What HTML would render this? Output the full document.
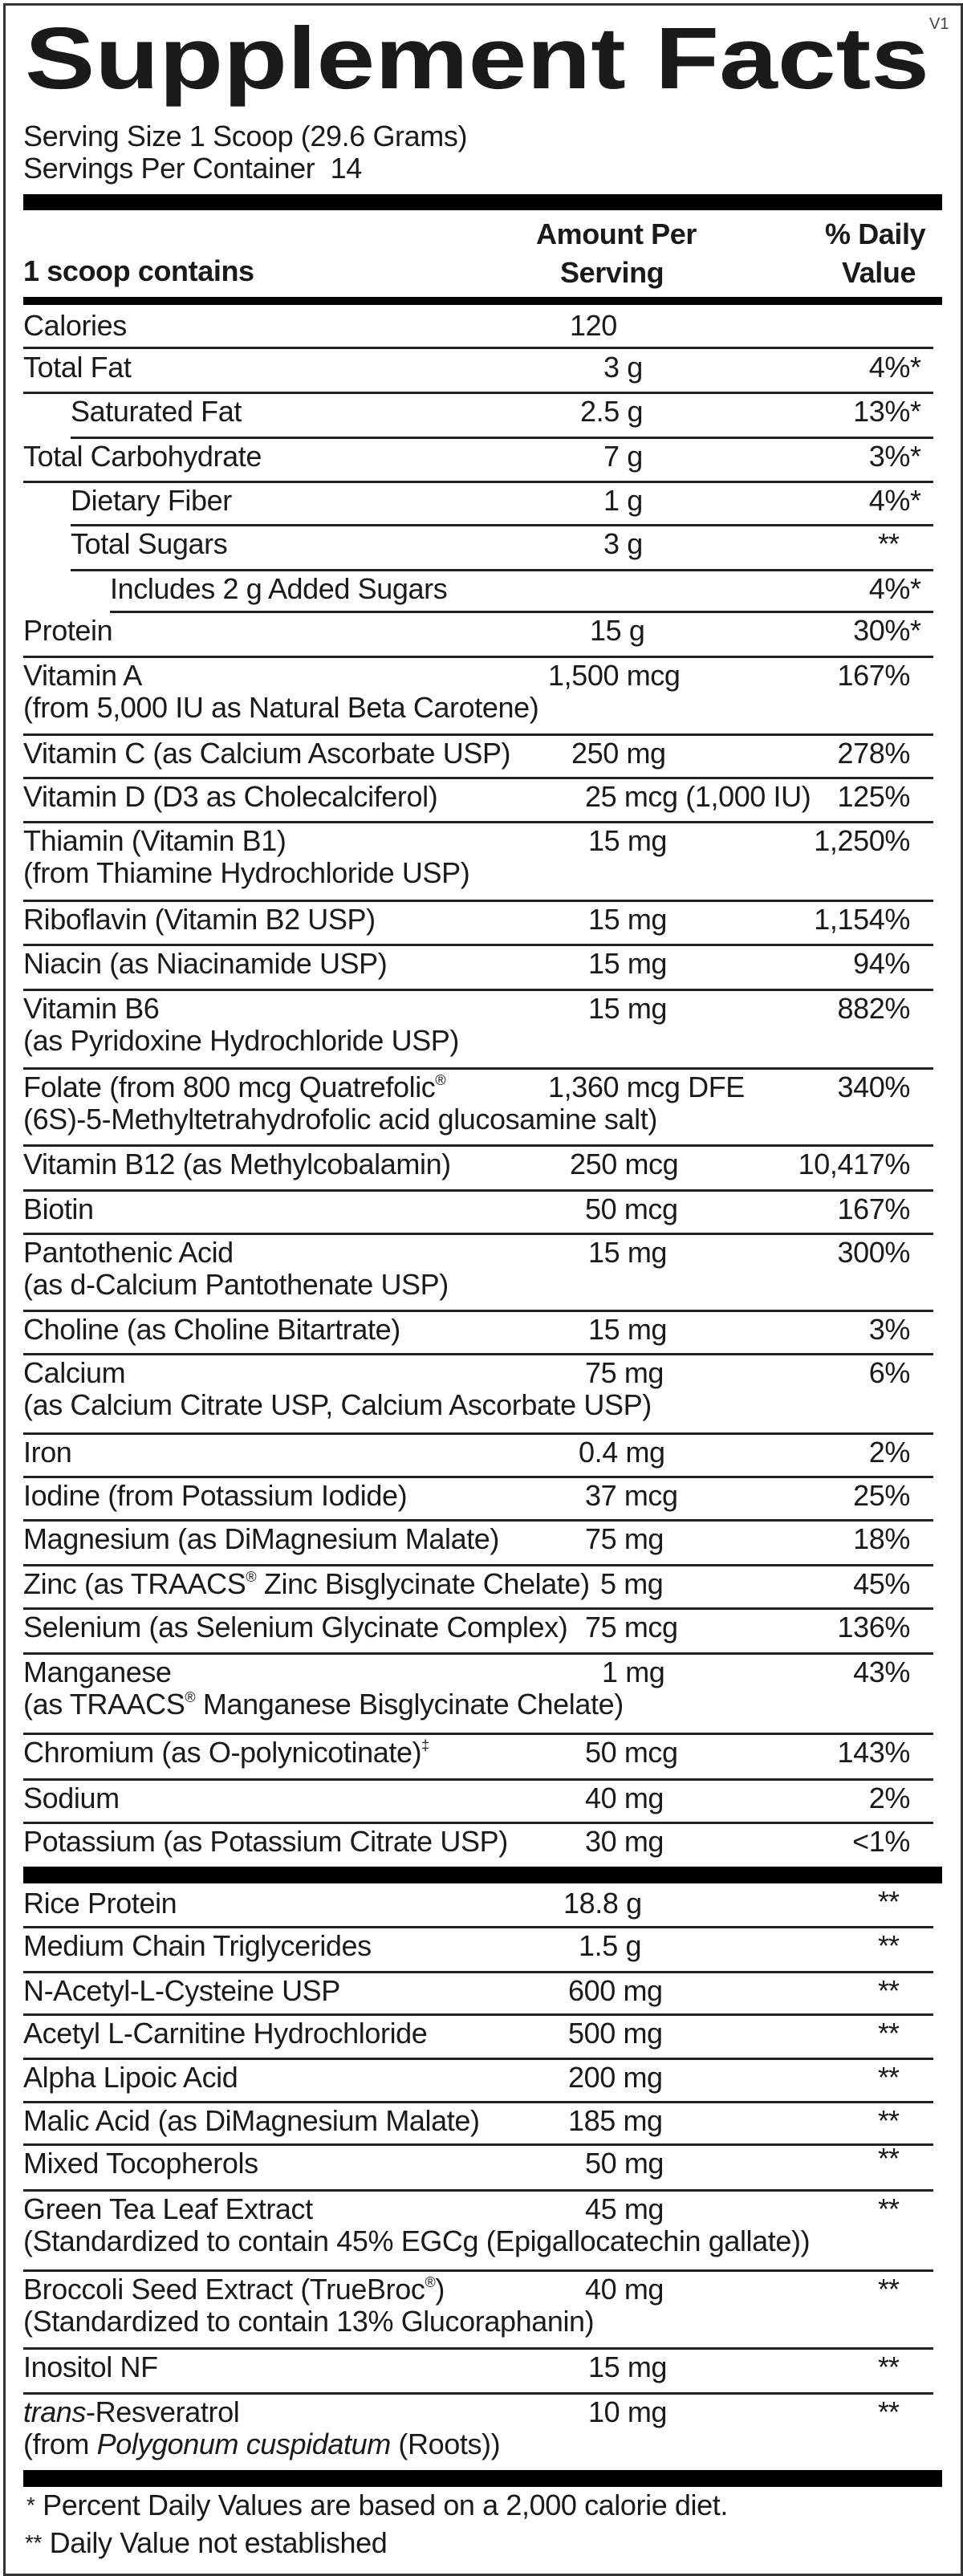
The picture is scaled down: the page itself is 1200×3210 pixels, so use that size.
<!DOCTYPE html>
<html><head><meta charset="utf-8"><style>
*{margin:0;padding:0}
body{width:1200px;height:3210px;background:#fff;position:relative;overflow:hidden;font-family:"Liberation Sans",Arial,sans-serif;color:#1a1a1a}
.box{position:absolute;left:4px;top:4px;width:1190px;height:3200px;border:3px solid #333}
.t{position:absolute;font-size:36px;line-height:36px;letter-spacing:-0.4px;white-space:nowrap}
.p{position:absolute;right:66px;font-size:36px;line-height:36px;letter-spacing:-0.4px;white-space:nowrap}
.p i{position:absolute;left:100%;font-style:normal}
.s{position:absolute;left:1094px;font-size:36px;line-height:36px;letter-spacing:-1px}
.r{position:absolute;height:3px;background:#222;right:37px}
.bar{position:absolute;left:29px;width:1145px;background:#000}
.b{font-weight:bold}
sup{font-size:18px;vertical-align:top;line-height:18px}
</style></head><body>
<div class="box"></div>
<svg style="position:absolute;left:0;top:0" width="1200" height="140">
<text x="31" y="110" font-family="Liberation Sans, Arial, sans-serif" font-weight="bold" font-size="109" textLength="1127" lengthAdjust="spacingAndGlyphs" fill="#1a1a1a">Supplement Facts</text>
<text x="1158" y="36" font-family="Liberation Sans, Arial, sans-serif" font-size="20" fill="#444">V1</text>
</svg>
<div class="t" style="left:29px;top:152px">Serving Size 1 Scoop (29.6 Grams)</div>
<div class="t" style="left:29px;top:192px">Servings Per Container&nbsp; 14</div>
<div class="bar" style="top:242px;height:20px"></div>
<div class="t b" style="left:668px;top:274px">Amount Per</div>
<div class="t b" style="left:698px;top:322px">Serving</div>
<div class="t b" style="left:1028px;top:274px">% Daily</div>
<div class="t b" style="left:1049px;top:322px">Value</div>
<div class="t b" style="left:29px;top:320px">1 scoop contains</div>
<div class="bar" style="top:370px;height:10px"></div>
<div class="t" style="left:29px;top:388px">Calories</div><div class="t" style="left:710px;top:388px">120</div>

<div class="r" style="left:29px;top:432px"></div>
<div class="t" style="left:29px;top:440px">Total Fat</div><div class="t" style="left:752px;top:440px">3 g</div><div class="p" style="top:440px">4%<i>*</i></div>
<div class="r" style="left:29px;top:488px"></div>
<div class="t" style="left:88px;top:495px">Saturated Fat</div><div class="t" style="left:723px;top:495px">2.5 g</div><div class="p" style="top:495px">13%<i>*</i></div>
<div class="r" style="left:88px;top:544px"></div>
<div class="t" style="left:29px;top:551px">Total Carbohydrate</div><div class="t" style="left:752px;top:551px">7 g</div><div class="p" style="top:551px">3%<i>*</i></div>
<div class="r" style="left:29px;top:599px"></div>
<div class="t" style="left:88px;top:606px">Dietary Fiber</div><div class="t" style="left:752px;top:606px">1 g</div><div class="p" style="top:606px">4%<i>*</i></div>
<div class="r" style="left:88px;top:653px"></div>
<div class="t" style="left:88px;top:660px">Total Sugars</div><div class="t" style="left:752px;top:660px">3 g</div><div class="s" style="top:660px">**</div>
<div class="r" style="left:88px;top:709px"></div>
<div class="t" style="left:137px;top:716px">Includes 2 g Added Sugars</div><div class="p" style="top:716px">4%<i>*</i></div>
<div class="r" style="left:137px;top:761px"></div>
<div class="t" style="left:29px;top:768px">Protein</div><div class="t" style="left:735px;top:768px">15 g</div><div class="p" style="top:768px">30%<i>*</i></div>
<div class="r" style="left:29px;top:817px"></div>
<div class="t" style="left:29px;top:824px">Vitamin A</div><div class="t" style="left:29px;top:864px">(from 5,000 IU as Natural Beta Carotene)</div><div class="t" style="left:683px;top:824px">1,500 mcg</div><div class="p" style="top:824px">167%</div>
<div class="r" style="left:29px;top:914px"></div>
<div class="t" style="left:29px;top:921px">Vitamin C (as Calcium Ascorbate USP)</div><div class="t" style="left:712px;top:921px">250 mg</div><div class="p" style="top:921px">278%</div>
<div class="r" style="left:29px;top:968px"></div>
<div class="t" style="left:29px;top:975px">Vitamin D (D3 as Cholecalciferol)</div><div class="t" style="left:729px;top:975px">25 mcg (1,000 IU)</div><div class="p" style="top:975px">125%</div>
<div class="r" style="left:29px;top:1023px"></div>
<div class="t" style="left:29px;top:1030px">Thiamin (Vitamin B1)</div><div class="t" style="left:29px;top:1070px">(from Thiamine Hydrochloride USP)</div><div class="t" style="left:733px;top:1030px">15 mg</div><div class="p" style="top:1030px">1,250%</div>
<div class="r" style="left:29px;top:1121px"></div>
<div class="t" style="left:29px;top:1128px">Riboflavin (Vitamin B2 USP)</div><div class="t" style="left:733px;top:1128px">15 mg</div><div class="p" style="top:1128px">1,154%</div>
<div class="r" style="left:29px;top:1176px"></div>
<div class="t" style="left:29px;top:1183px">Niacin (as Niacinamide USP)</div><div class="t" style="left:733px;top:1183px">15 mg</div><div class="p" style="top:1183px">94%</div>
<div class="r" style="left:29px;top:1232px"></div>
<div class="t" style="left:29px;top:1239px">Vitamin B6</div><div class="t" style="left:29px;top:1279px">(as Pyridoxine Hydrochloride USP)</div><div class="t" style="left:733px;top:1239px">15 mg</div><div class="p" style="top:1239px">882%</div>
<div class="r" style="left:29px;top:1330px"></div>
<div class="t" style="left:29px;top:1337px">Folate (from 800 mcg Quatrefolic<sup>®</sup></div><div class="t" style="left:29px;top:1377px">(6S)-5-Methyltetrahydrofolic acid glucosamine salt)</div><div class="t" style="left:683px;top:1337px">1,360 mcg DFE</div><div class="p" style="top:1337px">340%</div>
<div class="r" style="left:29px;top:1426px"></div>
<div class="t" style="left:29px;top:1433px">Vitamin B12 (as Methylcobalamin)</div><div class="t" style="left:710px;top:1433px">250 mcg</div><div class="p" style="top:1433px">10,417%</div>
<div class="r" style="left:29px;top:1482px"></div>
<div class="t" style="left:29px;top:1489px">Biotin</div><div class="t" style="left:729px;top:1489px">50 mcg</div><div class="p" style="top:1489px">167%</div>
<div class="r" style="left:29px;top:1536px"></div>
<div class="t" style="left:29px;top:1543px">Pantothenic Acid</div><div class="t" style="left:29px;top:1583px">(as d-Calcium Pantothenate USP)</div><div class="t" style="left:733px;top:1543px">15 mg</div><div class="p" style="top:1543px">300%</div>
<div class="r" style="left:29px;top:1632px"></div>
<div class="t" style="left:29px;top:1639px">Choline (as Choline Bitartrate)</div><div class="t" style="left:733px;top:1639px">15 mg</div><div class="p" style="top:1639px">3%</div>
<div class="r" style="left:29px;top:1686px"></div>
<div class="t" style="left:29px;top:1693px">Calcium</div><div class="t" style="left:29px;top:1733px">(as Calcium Citrate USP, Calcium Ascorbate USP)</div><div class="t" style="left:729px;top:1693px">75 mg</div><div class="p" style="top:1693px">6%</div>
<div class="r" style="left:29px;top:1785px"></div>
<div class="t" style="left:29px;top:1792px">Iron</div><div class="t" style="left:721px;top:1792px">0.4 mg</div><div class="p" style="top:1792px">2%</div>
<div class="r" style="left:29px;top:1839px"></div>
<div class="t" style="left:29px;top:1846px">Iodine (from Potassium Iodide)</div><div class="t" style="left:729px;top:1846px">37 mcg</div><div class="p" style="top:1846px">25%</div>
<div class="r" style="left:29px;top:1893px"></div>
<div class="t" style="left:29px;top:1900px">Magnesium (as DiMagnesium Malate)</div><div class="t" style="left:729px;top:1900px">75 mg</div><div class="p" style="top:1900px">18%</div>
<div class="r" style="left:29px;top:1949px"></div>
<div class="t" style="left:29px;top:1956px">Zinc (as TRAACS<sup>®</sup> Zinc Bisglycinate Chelate)</div><div class="t" style="left:748px;top:1956px">5 mg</div><div class="p" style="top:1956px">45%</div>
<div class="r" style="left:29px;top:2003px"></div>
<div class="t" style="left:29px;top:2010px">Selenium (as Selenium Glycinate Complex)</div><div class="t" style="left:729px;top:2010px">75 mcg</div><div class="p" style="top:2010px">136%</div>
<div class="r" style="left:29px;top:2059px"></div>
<div class="t" style="left:29px;top:2066px">Manganese</div><div class="t" style="left:29px;top:2106px">(as TRAACS<sup>®</sup> Manganese Bisglycinate Chelate)</div><div class="t" style="left:750px;top:2066px">1 mg</div><div class="p" style="top:2066px">43%</div>
<div class="r" style="left:29px;top:2159px"></div>
<div class="t" style="left:29px;top:2166px">Chromium (as O-polynicotinate)<sup>‡</sup></div><div class="t" style="left:729px;top:2166px">50 mcg</div><div class="p" style="top:2166px">143%</div>
<div class="r" style="left:29px;top:2216px"></div>
<div class="t" style="left:29px;top:2223px">Sodium</div><div class="t" style="left:729px;top:2223px">40 mg</div><div class="p" style="top:2223px">2%</div>
<div class="r" style="left:29px;top:2270px"></div>
<div class="t" style="left:29px;top:2277px">Potassium (as Potassium Citrate USP)</div><div class="t" style="left:729px;top:2277px">30 mg</div><div class="p" style="top:2277px">&lt;1%</div>
<div class="bar" style="top:2326px;height:21px"></div>

<div class="t" style="left:29px;top:2354px">Rice Protein</div><div class="t" style="left:702px;top:2354px">18.8 g</div><div class="s" style="top:2352px">**</div>
<div class="r" style="left:29px;top:2400px"></div>
<div class="t" style="left:29px;top:2407px">Medium Chain Triglycerides</div><div class="t" style="left:721px;top:2407px">1.5 g</div><div class="s" style="top:2407px">**</div>
<div class="r" style="left:29px;top:2456px"></div>
<div class="t" style="left:29px;top:2463px">N-Acetyl-L-Cysteine USP</div><div class="t" style="left:708px;top:2463px">600 mg</div><div class="s" style="top:2463px">**</div>
<div class="r" style="left:29px;top:2509px"></div>
<div class="t" style="left:29px;top:2516px">Acetyl L-Carnitine Hydrochloride</div><div class="t" style="left:708px;top:2516px">500 mg</div><div class="s" style="top:2516px">**</div>
<div class="r" style="left:29px;top:2564px"></div>
<div class="t" style="left:29px;top:2571px">Alpha Lipoic Acid</div><div class="t" style="left:708px;top:2571px">200 mg</div><div class="s" style="top:2571px">**</div>
<div class="r" style="left:29px;top:2618px"></div>
<div class="t" style="left:29px;top:2625px">Malic Acid (as DiMagnesium Malate)</div><div class="t" style="left:708px;top:2625px">185 mg</div><div class="s" style="top:2625px">**</div>
<div class="r" style="left:29px;top:2671px"></div>
<div class="t" style="left:29px;top:2678px">Mixed Tocopherols</div><div class="t" style="left:729px;top:2678px">50 mg</div><div class="s" style="top:2672px">**</div>
<div class="r" style="left:29px;top:2728px"></div>
<div class="t" style="left:29px;top:2735px">Green Tea Leaf Extract</div><div class="t" style="left:29px;top:2775px">(Standardized to contain 45% EGCg (Epigallocatechin gallate))</div><div class="t" style="left:729px;top:2735px">45 mg</div><div class="s" style="top:2735px">**</div>
<div class="r" style="left:29px;top:2828px"></div>
<div class="t" style="left:29px;top:2835px">Broccoli Seed Extract (TrueBroc<sup>®</sup>)</div><div class="t" style="left:29px;top:2875px">(Standardized to contain 13% Glucoraphanin)</div><div class="t" style="left:729px;top:2835px">40 mg</div><div class="s" style="top:2835px">**</div>
<div class="r" style="left:29px;top:2925px"></div>
<div class="t" style="left:29px;top:2932px">Inositol NF</div><div class="t" style="left:733px;top:2932px">15 mg</div><div class="s" style="top:2932px">**</div>
<div class="r" style="left:29px;top:2981px"></div>
<div class="t" style="left:29px;top:2988px"><i>trans</i>-Resveratrol</div><div class="t" style="left:29px;top:3028px">(from <i>Polygonum cuspidatum</i> (Roots))</div><div class="t" style="left:733px;top:2988px">10 mg</div><div class="s" style="top:2988px">**</div>
<div class="bar" style="top:3078px;height:21px"></div>
<div class="t" style="left:33px;top:3104px"><span style="font-size:28px;vertical-align:top">*</span> Percent Daily Values are based on a 2,000 calorie diet.</div>
<div class="t" style="left:31px;top:3151px"><span style="font-size:28px;vertical-align:top">**</span> Daily Value not established</div>
</body></html>
